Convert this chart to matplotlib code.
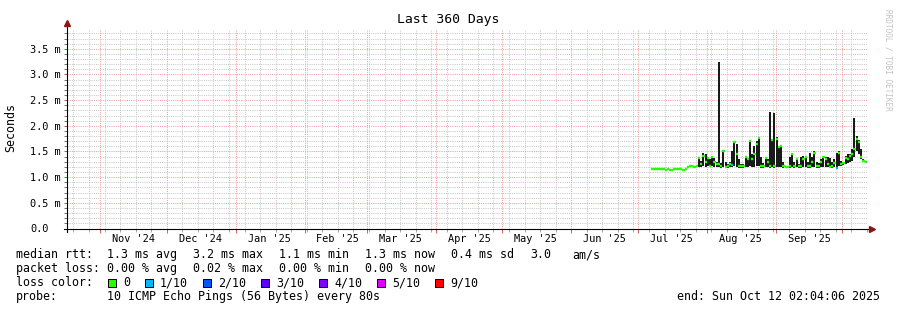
import numpy as np
import matplotlib
matplotlib.use('Agg')
import matplotlib.pyplot as plt
import matplotlib.dates as mdates
from matplotlib.patches import Rectangle
from datetime import datetime, timedelta

W, H = 897, 310
FONT = 'DejaVu Sans Mono'

# time range of the graph
start = datetime(2024, 10, 17, 2, 4, 6)
end = datetime(2025, 10, 12, 2, 4, 6)
first_day = datetime(2025, 7, 7)

# daily values (ms)
median_ms = [1.16, 1.15, 1.16, 1.15, 1.16, 1.15, 1.14, 1.15, 1.13, 1.14, 1.15, 1.15, 1.16, 1.15, 1.14, 1.15,
             1.20, 1.21, 1.21, 1.20, 1.21,
             1.38, 1.25, 1.42, 1.30, 1.38, 1.22, 1.40, 1.30, 1.25, 1.26, 1.22, 1.50, 1.20, 1.22, 1.25,
             1.24, 1.68, 1.45, 1.22, 1.22, 1.22, 1.40, 1.35, 1.70, 1.35, 1.45, 1.65, 1.76, 1.22, 1.22,
             1.38, 1.30, 1.22, 1.73, 1.22, 1.75, 1.58, 1.60, 1.22, 1.20, 1.20, 1.22, 1.45, 1.22, 1.35,
             1.22, 1.22, 1.35, 1.40, 1.22, 1.22, 1.30, 1.48, 1.22, 1.22, 1.30, 1.40, 1.35, 1.25, 1.20,
             1.22, 1.28, 1.17, 1.47, 1.25, 1.28, 1.38, 1.35, 1.42, 1.45, 1.55, 1.75, 1.68, 1.40, 1.32, 1.30]
smoke_hi_ms = [1.18, 1.17, 1.18, 1.17, 1.18, 1.17, 1.16, 1.17, 1.15, 1.16, 1.17, 1.17, 1.18, 1.17, 1.16, 1.17,
               1.22, 1.23, 1.23, 1.22, 1.23,
               1.40, 1.32, 1.48, 1.45, 1.40, 1.35, 1.42, 1.38, 1.30, 3.25, 1.28, 1.52, 1.30, 1.25, 1.30,
               1.50, 1.70, 1.65, 1.35, 1.25, 1.25, 1.42, 1.38, 1.72, 1.45, 1.60, 1.70, 1.78, 1.40, 1.28,
               1.40, 1.35, 2.27, 1.75, 2.25, 1.78, 1.60, 1.62, 1.30, 1.22, 1.22, 1.40, 1.48, 1.30, 1.38,
               1.25, 1.40, 1.42, 1.42, 1.30, 1.48, 1.40, 1.50, 1.30, 1.28, 1.35, 1.42, 1.40, 1.40, 1.38,
               1.30, 1.35, 1.48, 1.50, 1.32, 1.30, 1.42, 1.45, 1.45, 1.55, 2.15, 1.80, 1.72, 1.55, 1.35, 1.32]
smoke_lo_ms = [1.16, 1.15, 1.16, 1.15, 1.16, 1.15, 1.14, 1.15, 1.13, 1.14, 1.15, 1.15, 1.16, 1.15, 1.14, 1.15,
               1.20, 1.21, 1.21, 1.20, 1.21,
               1.20, 1.20, 1.22, 1.20, 1.22, 1.20, 1.22, 1.20, 1.20, 1.20, 1.18, 1.20, 1.18, 1.18, 1.20,
               1.20, 1.22, 1.20, 1.18, 1.18, 1.18, 1.20, 1.20, 1.22, 1.20, 1.20, 1.22, 1.22, 1.18, 1.18,
               1.20, 1.20, 1.18, 1.20, 1.18, 1.20, 1.20, 1.20, 1.18, 1.18, 1.18, 1.18, 1.20, 1.18, 1.20,
               1.18, 1.18, 1.20, 1.20, 1.18, 1.18, 1.20, 1.20, 1.18, 1.18, 1.20, 1.20, 1.20, 1.20, 1.18,
               1.18, 1.20, 1.16, 1.22, 1.22, 1.24, 1.26, 1.28, 1.30, 1.32, 1.40, 1.50, 1.45, 1.35, 1.30, 1.28]
# lost pings out of 10 per day
loss = [0] * 36 + [1] + [0] * 46 + [1] + [0] * 13

loss_steps = [0, 1, 2, 3, 4, 5, 9]
loss_labels = ['0', '1/10', '2/10', '3/10', '4/10', '5/10', '9/10']
loss_colors = ['#26ff00', '#00b8ff', '#0059ff', '#5e00ff', '#7e00ff', '#dd00ff', '#ff0000']

ytick_values = [0.0, 0.5e-3, 1.0e-3, 1.5e-3, 2.0e-3, 2.5e-3, 3.0e-3, 3.5e-3]
ytick_labels = ['0.0', '0.5 m', '1.0 m', '1.5 m', '2.0 m', '2.5 m', '3.0 m', '3.5 m']

plt.rcParams['font.family'] = FONT

days = mdates.date2num([first_day + timedelta(days=i) for i in range(len(median_ms))])
med = np.array(median_ms) * 1e-3
hi = np.array(smoke_hi_ms) * 1e-3
lo = np.array(smoke_lo_ms) * 1e-3
colors = [loss_colors[loss_steps.index(l)] for l in loss]

fig = plt.figure(figsize=(W / 100, H / 100), dpi=100)
ax = fig.add_axes([67 / W, (H - 228.5) / H, 800 / W, 200 / H])
ax.set_xlim(mdates.date2num(start), mdates.date2num(end))
ax.set_ylim(0, 200 / 51.35 * 1e-3)

gray = '#c6c6c6'
red = '#f09c9c'
dots = (0, (1, 1.2))

# grid
ax.xaxis.set_major_locator(mdates.MonthLocator())
ax.xaxis.set_minor_locator(mdates.WeekdayLocator(byweekday=mdates.SU))
ax.xaxis.set_major_formatter(matplotlib.ticker.NullFormatter())
ax.set_yticks(ytick_values, ytick_labels)
ax.yaxis.set_minor_locator(matplotlib.ticker.MultipleLocator(0.1e-3))
ax.grid(which='major', color=red, linestyle=dots, linewidth=0.72, zorder=0)
ax.grid(which='minor', color=gray, linestyle=dots, linewidth=0.72, zorder=0)
ax.set_axisbelow(True)

ax.tick_params(axis='x', which='major', length=3, width=0.72, color='#e06060', direction='out')
ax.tick_params(axis='x', which='minor', length=2, width=0.72, color='#aaaaaa', direction='out')
ax.tick_params(axis='y', which='both', length=2, width=0.72, color='#777777', direction='out',
               labelsize=7.35, pad=24.3)
for lab in ax.get_yticklabels():
    lab.set_horizontalalignment('left')

# month labels in the middle of each month
sec = ax.secondary_xaxis('bottom')
sec.xaxis.set_major_locator(mdates.MonthLocator(bymonthday=16))
sec.xaxis.set_major_formatter(mdates.DateFormatter("%b '%y"))
sec.tick_params(length=0, labelsize=7.35, pad=4)
sec.spines['bottom'].set_visible(False)

for s in ['top', 'right', 'left', 'bottom']:
    ax.spines[s].set_visible(False)

# smoke and median
ax.bar(days, hi - lo, bottom=lo, width=0.9, align='edge', color='#1a1a1a', zorder=3)
ax.hlines(med, days, days + 1, colors=colors, linewidth=1.7, zorder=4)

# axes with arrows
ax.plot([0, 0], [-3 / 200, 1 + 4 / 200], transform=ax.transAxes, clip_on=False, color='#000000', lw=0.8, zorder=5)
ax.plot([-3 / 800, 1 + 3 / 800], [0, 0], transform=ax.transAxes, clip_on=False, color='#000000', lw=0.8, zorder=5)
ax.plot(0, 1 + 5.5 / 200, marker='^', ms=4.5, color='#8e1414', transform=ax.transAxes, clip_on=False, zorder=6)
ax.plot(1 + 4.5 / 800, 0, marker='>', ms=4.5, color='#8e1414', transform=ax.transAxes, clip_on=False, zorder=6)

ax.set_ylabel('Seconds', fontsize=8.4, va='center')
ax.yaxis.set_label_coords(-56 / 800, 0.505)


def px(x, y):
    return x / W, 1 - y / H


fig.text(*px(448, 23.5), 'Last 360 Days', fontsize=9.45, ha='center', va='baseline')
fig.text(*px(888, 60), 'RRDTOOL / TOBI OETIKER', fontsize=5.6, color='#c4c4c4',
         rotation=270, ha='center', va='center')

leg = 8.4
line1 = [(16, 'median rtt:'), (107, '1.3 ms avg'), (193, '3.2 ms max'), (279, '1.1 ms min'),
         (365, '1.3 ms now'), (451, '0.4 ms sd'), (530, '3.0'), (572, 'am/s')]
line2 = [(16, 'packet loss:'), (107, '0.00 % avg'), (193, '0.02 % max'), (279, '0.00 % min'),
         (365, '0.00 % now')]
for x, t in line1:
    fig.text(*px(x, 258.3), t, fontsize=leg, va='baseline')
for x, t in line2:
    fig.text(*px(x, 272.3), t, fontsize=leg, va='baseline')

fig.text(*px(16, 286.3), 'loss color:', fontsize=leg, va='baseline')
bx = 108
for lab, col in zip(loss_labels, loss_colors):
    fig.patches.append(Rectangle(px(bx, 286.5), 8 / W, 8 / H, transform=fig.transFigure,
                                 facecolor=col, edgecolor='#000000', linewidth=0.72))
    fig.text(*px(bx + 15, 286.3), lab, fontsize=leg, va='baseline')
    bx += 15 + len(lab) * 7.02 + 15

fig.text(*px(16, 300.3), 'probe:', fontsize=leg, va='baseline')
fig.text(*px(107, 300.3), '10 ICMP Echo Pings (56 Bytes) every 80s', fontsize=leg, va='baseline')
fig.text(*px(880, 300.3), 'end: Sun Oct 12 02:04:06 2025', fontsize=leg, va='baseline', ha='right')

fig.savefig('out.png', dpi=100, facecolor='white')
